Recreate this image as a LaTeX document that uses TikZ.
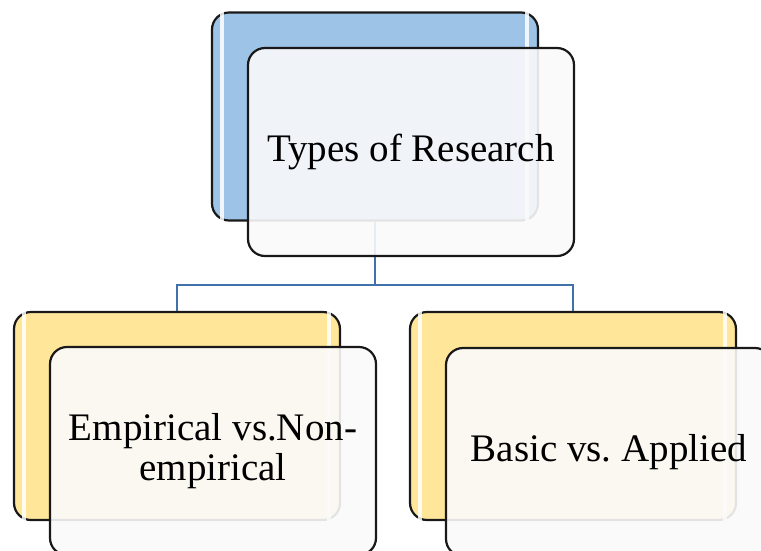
\documentclass[tikz,border=0pt]{standalone}
\usepackage{fontspec}
\setmainfont{Liberation Serif}
\usetikzlibrary{positioning}

\definecolor{backblue}{RGB}{157,195,230}
\definecolor{backgold}{RGB}{255,230,153}
\definecolor{linkblue}{RGB}{65,113,170}

\tikzset{
	backbox/.style={draw=black!90, line width=2.2pt, rounded corners=17pt, minimum width=326pt, minimum height=208pt, inner sep=0pt},
	frontbox/.style={backbox, fill=white!98!black, fill opacity=0.9, text opacity=1, align=center, font=\fontsize{39}{40}\selectfont},
	glint/.style={white, line width=4pt, line cap=round, opacity=0.85},
	link/.style={draw=linkblue, line width=2.6pt},
}

\begin{document}
\frenchspacing
\begin{tikzpicture}[x=1pt,y=1pt,yscale=-1]
			\useasboundingbox (0,0) rectangle (761,550);
			\clip (0,0) rectangle (761,550);

			% back boxes
			\node[backbox, fill=backblue] (typesback) at (375,116.5) {};
			\node[backbox, fill=backgold] (empback) at (177,416) {};
			\node[backbox, fill=backgold] (basback) at (573,416) {};

			% connectors
			\coordinate (fork) at (375,285);
			\draw[link] (typesback.south) -- (fork) -| (empback.north);
			\draw[link] (fork) -| (basback.north);

			% highlights
			\foreach \b in {typesback, empback, basback} {
				\draw[glint] ([xshift=11pt,yshift=-17pt]\b.north west) -- ([xshift=11pt,yshift=20pt]\b.south west);
				\draw[glint] ([xshift=-12pt,yshift=-21pt]\b.north east) -- ([xshift=-12pt,yshift=20pt]\b.south east);
			}

			% front boxes
			\node[frontbox] (types) at (411,152) {Types of Research};
			\node[frontbox] (emp) at (213,451) {Empirical vs.Non-\\empirical};
			\node[frontbox] (bas) at (609,452) {Basic vs. Applied};
\end{tikzpicture}
\end{document}
